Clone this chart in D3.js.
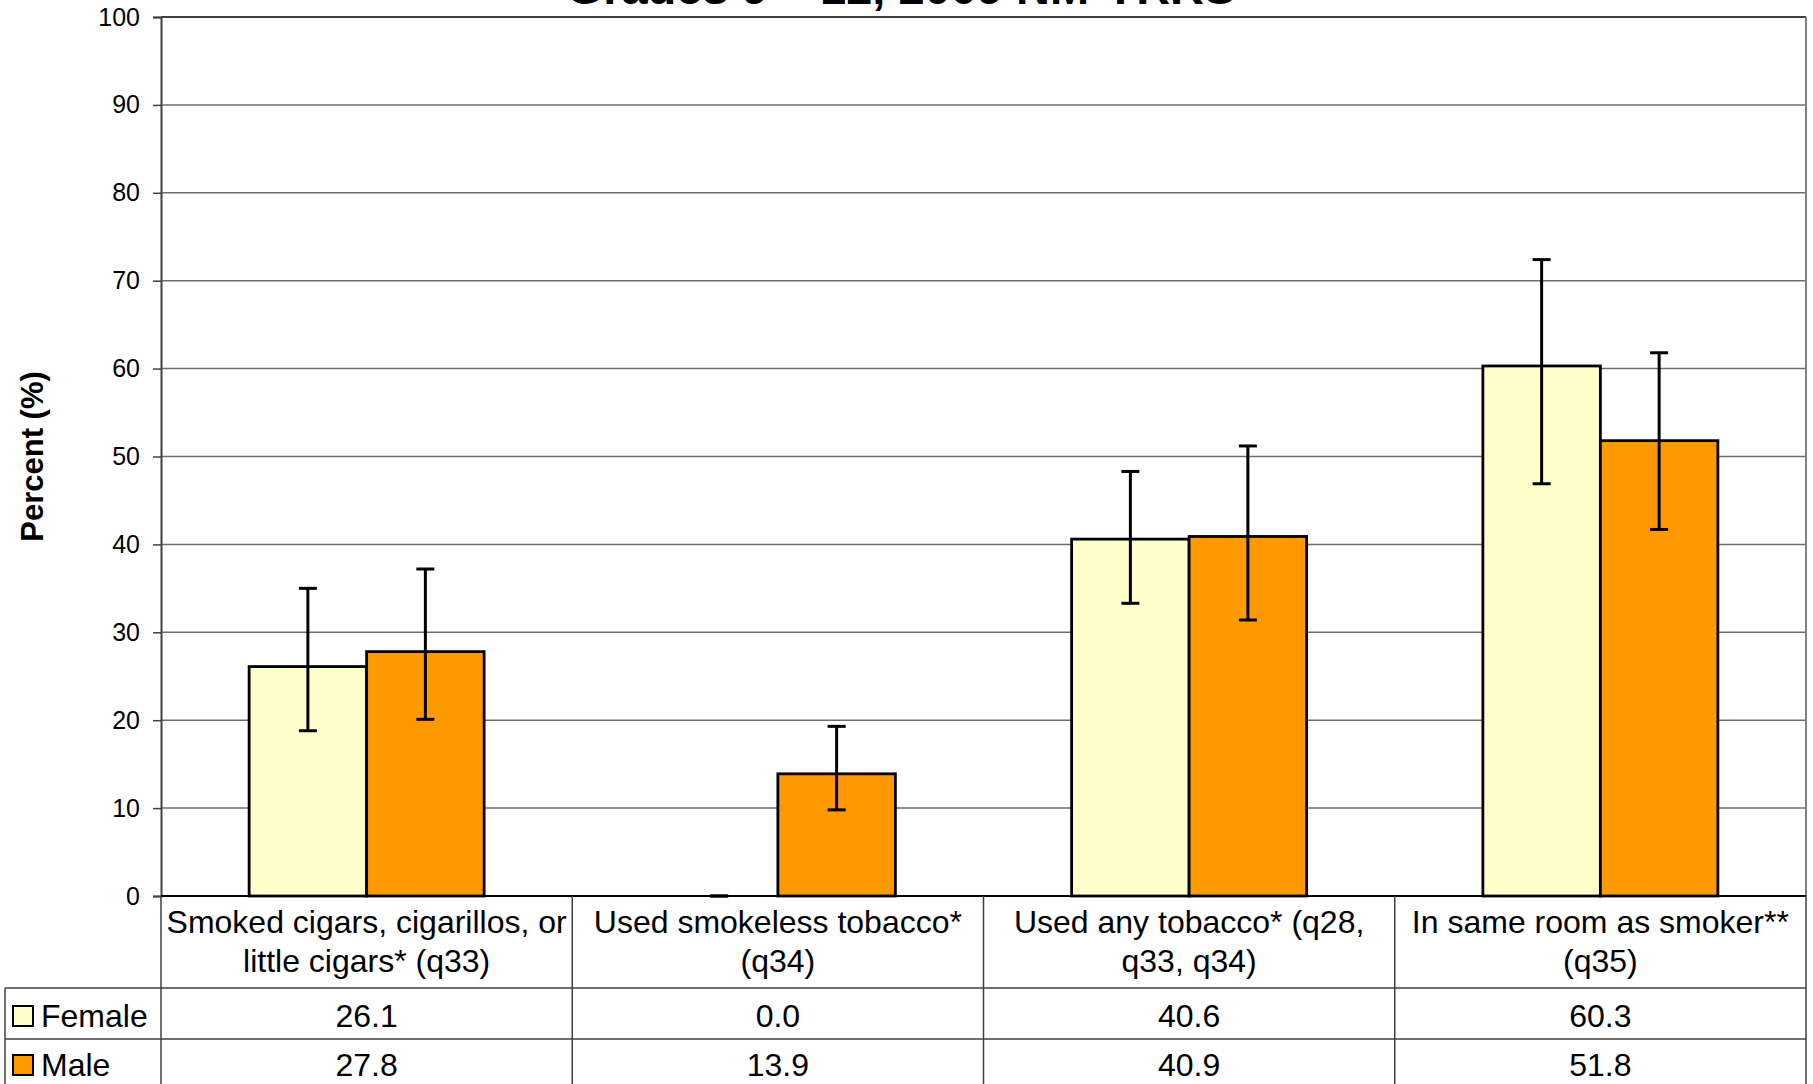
<!DOCTYPE html>
<html><head><meta charset="utf-8">
<script src="https://cdn.jsdelivr.net/npm/d3@7"></script>
<style>
html,body{margin:0;padding:0;background:#fff;}
svg{display:block;font-family:"Liberation Sans",Arial,sans-serif;}
</style></head>
<body>
<svg id="chart" width="1813" height="1084"></svg>
<script>
const categories = [
  ["Smoked cigars, cigarillos, or", "little cigars* (q33)"],
  ["Used smokeless tobacco*", "(q34)"],
  ["Used any tobacco* (q28,", "q33, q34)"],
  ["In same room as smoker**", "(q35)"]
];
const seriesNames = ["Female", "Male"];
const femaleValues = [26.1, 0.0, 40.6, 60.3];
const maleValues = [27.8, 13.9, 40.9, 51.8];
const femaleLow = [18.8, 0.0, 33.3, 46.9];
const femaleHigh = [35.0, 0.0, 48.3, 72.4];
const maleLow = [20.1, 9.8, 31.4, 41.7];
const maleHigh = [37.2, 19.3, 51.2, 61.8];
const yTicks = [0,10,20,30,40,50,60,70,80,90,100];
const titleText = "Grades 9 \u2013 12, 2009 NM-YRRS";
const yTitle = "Percent (%)";

const colors = {Female: "#FFFFCC", Male: "#FF9900"};

const svg = d3.select("#chart");
const L = 161, R = 1806, T = 17, B = 896;
const rowH = [B, 988, 1039, 1090];

const catIdx = categories.map((c,i)=>i);
const x0 = d3.scaleBand().domain(catIdx).range([L, R]).padding(0);
const x1 = d3.scaleBand().domain(seriesNames).range([0, x0.bandwidth()]).paddingInner(0).paddingOuter(0.75);
const y = d3.scaleLinear().domain([0,100]).range([B, T]);

// title
svg.append("text").attr("x", 901).attr("y", 4).attr("text-anchor","middle")
  .attr("font-size", 47).attr("font-weight","bold").text(titleText);

// gridlines
svg.append("g").selectAll("line").data(yTicks.filter(d=>d>0)).join("line")
  .attr("x1", L).attr("x2", R).attr("y1", d=>y(d)).attr("y2", d=>y(d))
  .attr("stroke", d=>d===100?"#000":"#6e6e6e").attr("stroke-width", 1.5);

// right border
svg.append("line").attr("x1",R).attr("x2",R).attr("y1",T).attr("y2",B).attr("stroke","#808080").attr("stroke-width",2);

// y axis
const yAxis = d3.axisLeft(y).tickValues(yTicks).tickSize(8).tickPadding(13).tickFormat(d3.format("d"));
const ga = svg.append("g").attr("transform", `translate(${L},0)`).call(yAxis);
ga.select(".domain").attr("stroke","#404040").attr("stroke-width",2);
ga.selectAll(".tick line").attr("stroke","#404040").attr("stroke-width",1.5);
ga.selectAll(".tick text").attr("font-size",25).attr("fill","#000").attr("font-family","Liberation Sans, Arial, sans-serif");

svg.append("text").attr("transform", `translate(43,${(T+B)/2}) rotate(-90)`)
  .attr("text-anchor","middle").attr("font-size",31).attr("font-weight","bold").text(yTitle);

// bars
const data = [
  {name:"Female", vals: femaleValues, lo: femaleLow, hi: femaleHigh},
  {name:"Male", vals: maleValues, lo: maleLow, hi: maleHigh}
];
const gBars = svg.append("g");
data.forEach(s => {
  gBars.append("g").selectAll("rect").data(s.vals).join("rect")
    .attr("x", (d,i)=>x0(i)+x1(s.name))
    .attr("y", d=>y(d))
    .attr("width", x1.bandwidth())
    .attr("height", d=>y(0)-y(d))
    .attr("fill", colors[s.name]).attr("stroke","#000").attr("stroke-width",2.8);
});
// error bars
const gErr = svg.append("g").attr("stroke","#000").attr("stroke-width",3);
data.forEach(s => {
  s.vals.forEach((v,i) => {
    const cx = x0(i)+x1(s.name)+x1.bandwidth()/2;
    gErr.append("line").attr("x1",cx).attr("x2",cx).attr("y1",y(s.lo[i])).attr("y2",y(s.hi[i]));
    gErr.append("line").attr("x1",cx-9).attr("x2",cx+9).attr("y1",y(s.lo[i])).attr("y2",y(s.lo[i]));
    gErr.append("line").attr("x1",cx-9).attr("x2",cx+9).attr("y1",y(s.hi[i])).attr("y2",y(s.hi[i]));
  });
});

// baseline
svg.append("line").attr("x1",L).attr("x2",R).attr("y1",B).attr("y2",B).attr("stroke","#000").attr("stroke-width",2);

// table
const gT = svg.append("g").attr("stroke","#404040").attr("stroke-width",1.5);
catIdx.concat([categories.length]).forEach(i => {
  const xx = i < categories.length ? x0(i) : R;
  gT.append("line").attr("x1",xx).attr("x2",xx).attr("y1",B).attr("y2",rowH[3]);
});
[rowH[1], rowH[2]].forEach(yy => gT.append("line").attr("x1",5).attr("x2",R).attr("y1",yy).attr("y2",yy));
gT.append("line").attr("x1",5).attr("x2",5).attr("y1",rowH[1]).attr("y2",rowH[3]);

// category labels
const gC = svg.append("g").attr("font-size",32).attr("text-anchor","middle");
categories.forEach((c,i) => {
  const cx = x0(i)+x0.bandwidth()/2;
  gC.append("text").attr("x",cx).attr("y",933).text(c[0]);
  gC.append("text").attr("x",cx).attr("y",972).text(c[1]);
});
// values
data.forEach((s,si) => {
  const yy = si===0 ? 1027 : 1076;
  s.vals.forEach((v,i)=>{
    gC.append("text").attr("x",x0(i)+x0.bandwidth()/2).attr("y",yy).text(d3.format(".1f")(v));
  });
  svg.append("rect").attr("x",13).attr("y",yy-21).attr("width",20).attr("height",20)
    .attr("fill",colors[s.name]).attr("stroke","#000").attr("stroke-width",2);
  svg.append("text").attr("x",41).attr("y",yy).attr("font-size",32).text(s.name);
});
</script>
</body></html>
